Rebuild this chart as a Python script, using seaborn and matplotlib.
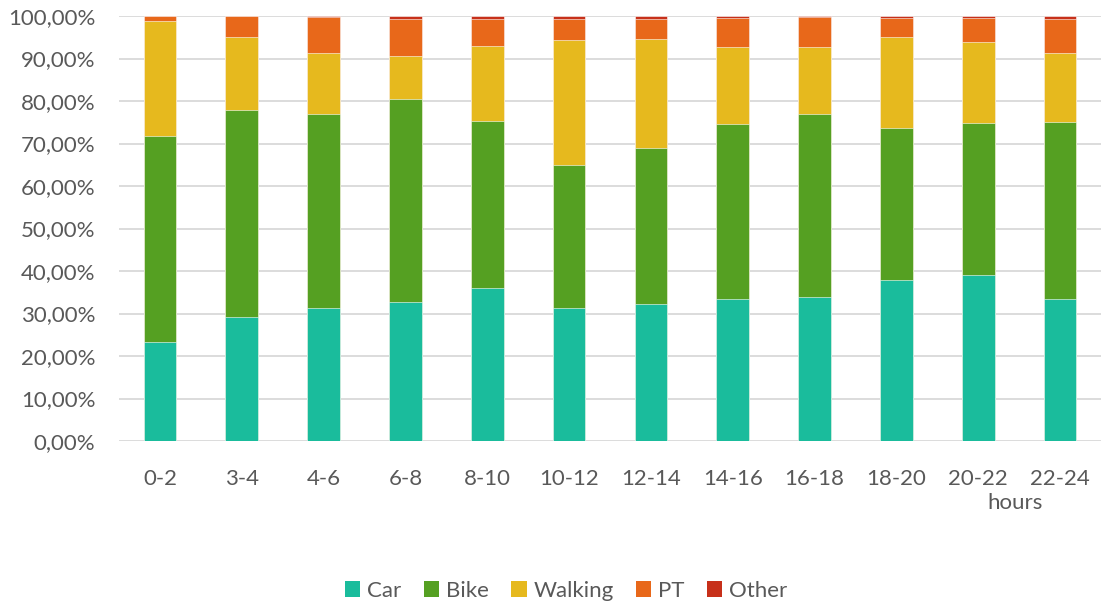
import matplotlib
matplotlib.use("Agg")
import matplotlib.pyplot as plt
import seaborn as sns
import pandas as pd
import numpy as np
from matplotlib.ticker import FuncFormatter, MultipleLocator
from matplotlib.patches import Patch

categories = ["0-2", "3-4", "4-6", "6-8", "8-10", "10-12", "12-14", "14-16", "16-18", "18-20", "20-22", "22-24"]
car = [23.4, 29.2, 31.3, 32.6, 35.9, 31.4, 32.3, 33.5, 34.0, 37.8, 39.0, 33.5]
bike = [48.4, 48.8, 45.6, 47.9, 39.3, 33.5, 36.6, 41.2, 42.9, 35.9, 35.9, 41.6]
walking = [27.0, 17.1, 14.5, 10.0, 17.8, 29.4, 25.7, 18.0, 15.8, 21.4, 18.9, 16.2]
pt = [1.1, 4.85, 8.3, 8.9, 6.2, 5.1, 4.6, 6.8, 7.1, 4.4, 5.7, 7.9]
other = [0.1, 0.05, 0.3, 0.6, 0.8, 0.6, 0.8, 0.5, 0.2, 0.5, 0.5, 0.8]

series = ["Car", "Bike", "Walking", "PT", "Other"]
colors = {"Car": "#1abc9c", "Bike": "#55a022", "Walking": "#e6b91e", "PT": "#e8681a", "Other": "#c7301a"}

df = pd.DataFrame({"hours": categories, "Car": car, "Bike": bike, "Walking": walking, "PT": pt, "Other": other})
cum = df[series].cumsum(axis=1)

sns.set_theme(style="white")
plt.rcParams["font.family"] = ["Lato", "DejaVu Sans"]

fig = plt.figure(figsize=(11.01, 6.08), dpi=100)
ax = fig.add_axes([119 / 1101, 1 - 441 / 608, 1 - 119 / 1101, (441 - 16) / 608])

for s in reversed(series):
    sns.barplot(x=df["hours"], y=cum[s], color=colors[s], width=0.4, ax=ax,
                edgecolor="white", linewidth=0.4, saturation=1, zorder=3)

ax.set_ylim(0, 100)
ax.set_xlim(-0.5, len(categories) - 0.5)
ax.yaxis.set_major_locator(MultipleLocator(10))
ax.yaxis.set_major_formatter(FuncFormatter(lambda v, p: f"{v:.2f}".replace(".", ",") + "%"))
ax.grid(axis="y", color="#d9d9d9", linewidth=1.3, zorder=0)
ax.set_axisbelow(True)
for sp in ax.spines.values():
    sp.set_visible(False)
ax.tick_params(axis="both", length=0, labelsize=16, labelcolor="#595959")
ax.tick_params(axis="x", pad=20)
ax.tick_params(axis="y", pad=17)
ax.set_ylabel("")
ax.set_xlabel("")
fig.text(1015 / 1101, 1 - 503 / 608, "hours", ha="center", va="center", fontsize=16, color="#595959")

handles = [Patch(facecolor=colors[s], edgecolor="none", label=s) for s in series]
fig.legend(handles=handles, loc="center", bbox_to_anchor=(566 / 1101, 1 - 591 / 608), ncol=5, frameon=False,
           fontsize=16, labelcolor="#595959", handlelength=0.7, handleheight=0.7, handletextpad=0.3,
           columnspacing=1.0)

fig.savefig("out.png", dpi=100)
